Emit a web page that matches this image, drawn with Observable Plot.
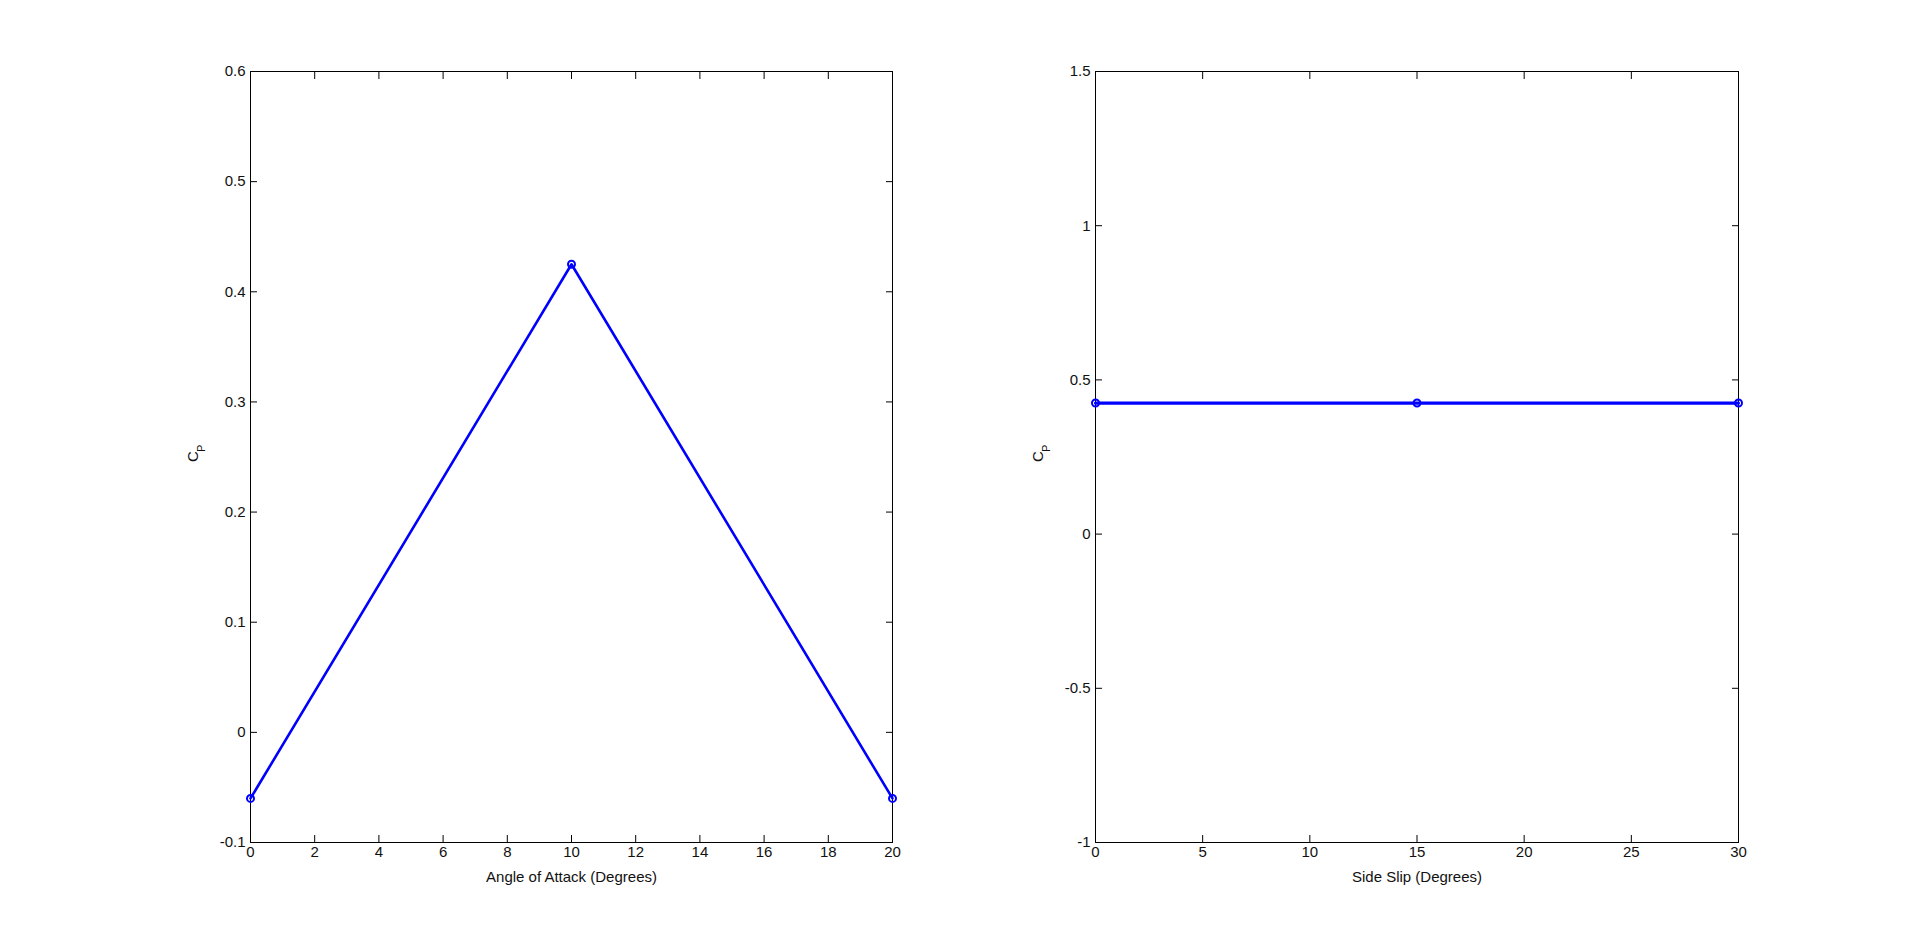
<!DOCTYPE html>
<html><head><meta charset="utf-8">
<script src="https://cdn.jsdelivr.net/npm/d3@7"></script>
<script src="https://cdn.jsdelivr.net/npm/@observablehq/plot@0.6"></script>
<style>
html,body{margin:0;padding:0;background:#fff;}
#wrap{position:relative;width:1920px;height:946px;background:#fff;overflow:hidden;}
#wrap svg{position:absolute;top:0;}
</style></head><body><div id="wrap"></div>
<script>
// Data
const alphaDeg = [0, 10, 20];
const alphaCp = [-0.06, 0.425, -0.06];
const slipDeg = [0, 15, 30];
const slipCp = [0.425, 0.425, 0.425];

// Tick labels
const alphaTicks = [0, 2, 4, 6, 8, 10, 12, 14, 16, 18, 20];
const cpTicksLeft = [-0.1, 0, 0.1, 0.2, 0.3, 0.4, 0.5, 0.6];
const slipTicks = [0, 5, 10, 15, 20, 25, 30];
const cpTicksRight = [-1, -0.5, 0, 0.5, 1, 1.5];

const xLabels = ["Angle of Attack (Degrees)", "Side Slip (Degrees)"];
const yLabelMain = "C";
const yLabelSub = "P";

const fmt = d => String(Math.round(d * 10) / 10);
const BLUE = "#0000ff";

function panel({xs, ys, xDomain, yDomain, xTicks, yTicks, xLabel, left, mLeft, mRight, lineW}) {
  const data = xs.map((x, i) => ({x, y: ys[i]}));
  const tk = 7;
  const svg = Plot.plot({
    width: 960,
    height: 946,
    marginLeft: mLeft,
    marginRight: mRight,
    marginTop: 71,
    marginBottom: 104,
    style: {fontFamily: "'Liberation Sans', Arial, sans-serif", fontSize: "15px", color: "#111", background: "transparent", overflow: "visible"},
    x: {domain: xDomain, nice: false},
    y: {domain: yDomain, nice: false},
    marks: [
      Plot.frame({stroke: "black", strokeWidth: 1}),
      // inward ticks on all four sides
      Plot.axisX(xTicks, {anchor: "bottom", tickSize: tk, dy: -tk, tickFormat: () => "", label: null, stroke: "black"}),
      Plot.axisX(xTicks, {anchor: "top", tickSize: tk, dy: tk, tickFormat: () => "", label: null, stroke: "black"}),
      Plot.axisY(yTicks, {anchor: "left", tickSize: tk, dx: tk, tickFormat: () => "", label: null, stroke: "black"}),
      Plot.axisY(yTicks, {anchor: "right", tickSize: tk, dx: -tk, tickFormat: () => "", label: null, stroke: "black"}),
      // tick labels
      Plot.axisX(xTicks, {anchor: "bottom", tickSize: 0, tickPadding: 4, tickFormat: fmt, label: null, fill: "#111"}),
      Plot.axisY(yTicks, {anchor: "left", tickSize: 0, tickPadding: 5, tickFormat: fmt, label: null, fill: "#111"}),
      // axis labels
      Plot.text([xLabel], {frameAnchor: "bottom", dy: 35, text: d => d, lineAnchor: "middle", fill: "#111", fontSize: 15}),
      Plot.text([yLabelMain], {frameAnchor: "left", dx: -57, dy: 5, rotate: -90, text: d => d, lineAnchor: "middle", fill: "#111", fontSize: 15}),
      Plot.text([yLabelSub], {frameAnchor: "left", dx: -49, dy: -5, rotate: -90, text: d => d, lineAnchor: "middle", fill: "#111", fontSize: 11}),
      // data
      Plot.line(data, {x: "x", y: "y", stroke: BLUE, strokeWidth: lineW}),
      Plot.dot(data, {x: "x", y: "y", r: 3.5, stroke: BLUE, strokeWidth: 2, fill: "none"})
    ]
  });
  svg.style.left = left + "px";
  return svg;
}

const wrap = document.getElementById("wrap");
wrap.appendChild(panel({
  xs: alphaDeg, ys: alphaCp, xDomain: [0, 20], yDomain: [-0.1, 0.6],
  xTicks: alphaTicks, yTicks: cpTicksLeft, xLabel: xLabels[0],
  left: 0, mLeft: 250, mRight: 68, lineW: 2.6
}));
wrap.appendChild(panel({
  xs: slipDeg, ys: slipCp, xDomain: [0, 30], yDomain: [-1, 1.5],
  xTicks: slipTicks, yTicks: cpTicksRight, xLabel: xLabels[1],
  left: 960, mLeft: 135, mRight: 182, lineW: 3.2
}));
</script>
</body></html>
